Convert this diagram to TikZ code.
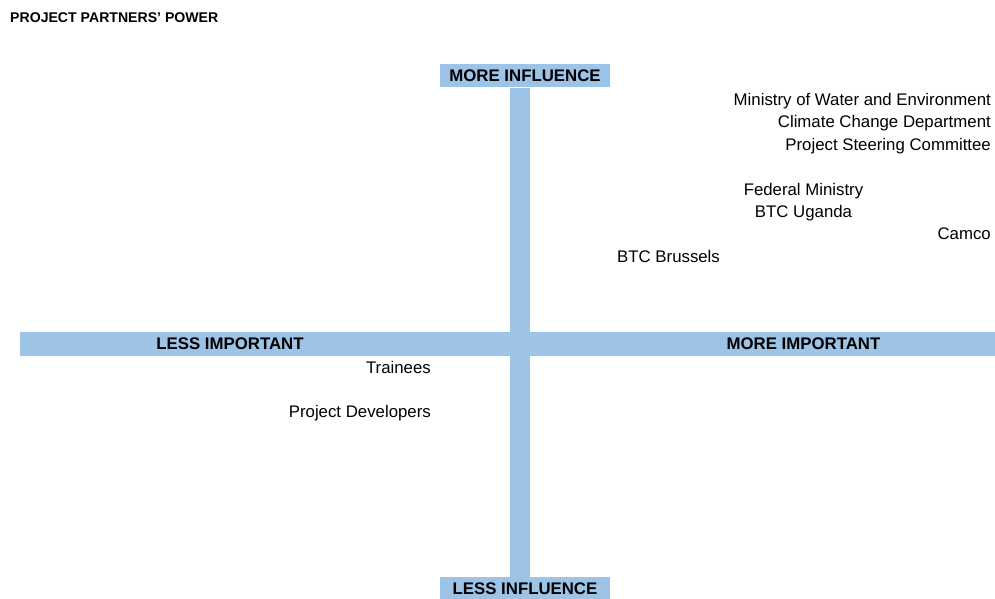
\documentclass[tikz,border=0pt]{standalone}
\usepackage{fontspec}
\setmainfont{Liberation Sans}
\definecolor{axisblue}{RGB}{157,195,230}
\begin{document}
	\begin{tikzpicture}[x=1pt, y=-1pt, every node/.style={inner sep=0pt, font=\fontsize{16.8}{20}\selectfont}, axis/.style={fill=axisblue}, axislabel/.style={font=\fontsize{16.8}{20}\selectfont\bfseries}, tag/.style={axislabel, fill=axisblue, minimum width=170pt, minimum height=23pt}]
		\useasboundingbox (0,0) rectangle (995,599);
		\node[anchor=base west, font=\fontsize{14.1}{17}\selectfont\bfseries](title) at (10,23){PROJECT PARTNERS’ POWER};
		% the two axes
		\fill[axis] (20,332) rectangle (995,356);
		\fill[axis] (509.5,88) rectangle (530,578);
		\node[tag](moreinfl) at (525,76){MORE INFLUENCE};
		\node[tag](lessinfl) at (525,588.5){LESS INFLUENCE};
		\node[axislabel](lessimp) at (230,344){LESS IMPORTANT};
		\node[axislabel](moreimp) at (803.5,344){MORE IMPORTANT};
		% partners
		\node[anchor=base east](mwe) at (991,106){Ministry of Water and Environment};
		\node[anchor=base east](ccd) at (991,128){Climate Change Department};
		\node[anchor=base east](psc) at (991,150.5){Project Steering Committee};
		\node[anchor=base](fed) at (803.5,195){Federal Ministry};
		\node[anchor=base](btcu) at (803.5,217.5){BTC Uganda};
		\node[anchor=base east](camco) at (991,239.5){Camco};
		\node[anchor=base west](btcb) at (617,262){BTC Brussels};
		\node[anchor=base east](trainees) at (431,373.5){Trainees};
		\node[anchor=base east](devs) at (431,417.5){Project Developers};
	\end{tikzpicture}
\end{document}
